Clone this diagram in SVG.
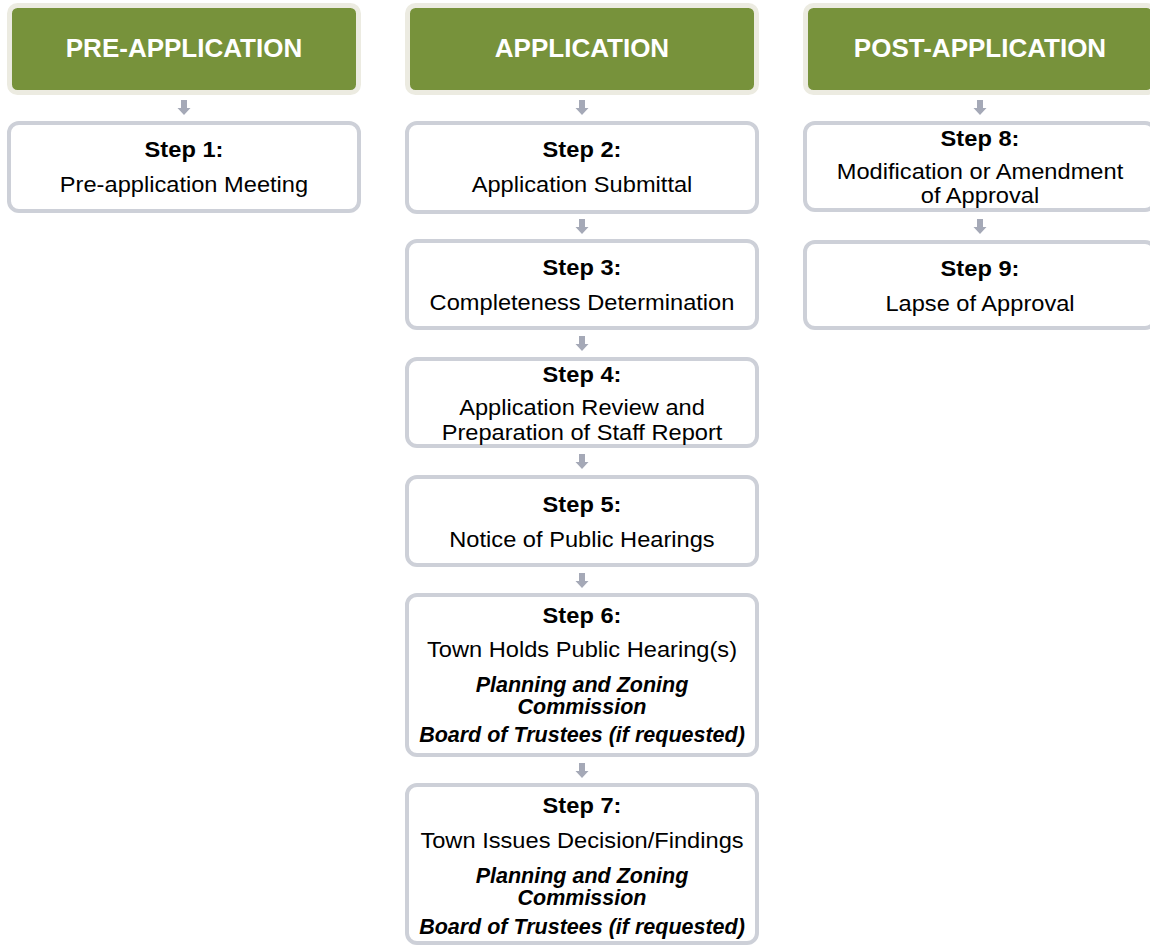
<svg xmlns="http://www.w3.org/2000/svg" xmlns:xlink="http://www.w3.org/1999/xlink" width="1150" height="946" viewBox="0 0 1150 946">
<style>
.hdr{fill:#77923b;stroke:#ecebe1;stroke-width:5}
.box{fill:#ffffff;stroke:#cdd0d8;stroke-width:4}
.ht{font-family:"Liberation Sans",Arial,sans-serif;font-weight:bold;font-size:26px;fill:#ffffff;text-anchor:middle}
.st{font-family:"Liberation Sans",Arial,sans-serif;font-weight:bold;font-size:22px;fill:#000;text-anchor:middle}
.bt{font-family:"Liberation Sans",Arial,sans-serif;font-size:22px;fill:#000;text-anchor:middle}
.it{font-family:"Liberation Sans",Arial,sans-serif;font-weight:bold;font-style:italic;font-size:21.5px;fill:#000;text-anchor:middle}
.arr{fill:#a5a9b7}
</style>
<defs>
<path id="arrow" d="M-3,0 H3 V8 H6.5 L0,15 L-6.5,8 H-3 Z"/>
</defs>
<rect width="1150" height="946" fill="#ffffff"/>

<g id="connectors" class="arr">
<use xlink:href="#arrow" href="#arrow" x="184" y="100"/>
<use xlink:href="#arrow" href="#arrow" x="582" y="100"/>
<use xlink:href="#arrow" href="#arrow" x="582" y="219"/>
<use xlink:href="#arrow" href="#arrow" x="582" y="336"/>
<use xlink:href="#arrow" href="#arrow" x="582" y="454"/>
<use xlink:href="#arrow" href="#arrow" x="582" y="573"/>
<use xlink:href="#arrow" href="#arrow" x="582" y="763"/>
<use xlink:href="#arrow" href="#arrow" x="980" y="100"/>
<use xlink:href="#arrow" href="#arrow" x="980" y="219"/>
</g>

<g id="hdr-pre">
<rect class="hdr" x="9.5" y="5.5" width="349" height="87" rx="8"/>
<text class="ht" x="184" y="57">PRE-APPLICATION</text>
</g>
<g id="hdr-app">
<rect class="hdr" x="407.5" y="5.5" width="349" height="87" rx="8"/>
<text class="ht" x="582" y="57">APPLICATION</text>
</g>
<g id="hdr-post">
<rect class="hdr" x="805.5" y="5.5" width="349" height="87" rx="8"/>
<text class="ht" x="980" y="57">POST-APPLICATION</text>
</g>

<g id="step1">
<rect class="box" x="9" y="123" width="350" height="88" rx="10"/>
<g transform="translate(184 0) scale(1.075 1)">
<text class="st" x="0" y="157">Step 1:</text>
<text class="bt" x="0" y="192">Pre-application Meeting</text>
</g>
</g>

<g id="step2">
<rect class="box" x="407" y="123" width="350" height="89" rx="10"/>
<g transform="translate(582 0) scale(1.075 1)">
<text class="st" x="0" y="157">Step 2:</text>
<text class="bt" x="0" y="192">Application Submittal</text>
</g>
</g>

<g id="step3">
<rect class="box" x="407" y="241" width="350" height="87" rx="10"/>
<g transform="translate(582 0) scale(1.075 1)">
<text class="st" x="0" y="275">Step 3:</text>
<text class="bt" x="0" y="310">Completeness Determination</text>
</g>
</g>

<g id="step4">
<rect class="box" x="407" y="359" width="350" height="87" rx="10"/>
<g transform="translate(582 0) scale(1.075 1)">
<text class="st" x="0" y="382">Step 4:</text>
<text class="bt" x="0" y="415">Application Review and</text>
<text class="bt" x="0" y="440">Preparation of Staff Report</text>
</g>
</g>

<g id="step5">
<rect class="box" x="407" y="477" width="350" height="88" rx="10"/>
<g transform="translate(582 0) scale(1.075 1)">
<text class="st" x="0" y="512">Step 5:</text>
<text class="bt" x="0" y="547">Notice of Public Hearings</text>
</g>
</g>

<g id="step6">
<rect class="box" x="407" y="595" width="350" height="160" rx="10"/>
<g transform="translate(582 0) scale(1.075 1)">
<text class="st" x="0" y="623">Step 6:</text>
<text class="bt" x="0" y="657">Town Holds Public Hearing(s)</text>
</g>
<text class="it" x="582" y="692">Planning and Zoning</text>
<text class="it" x="582" y="714">Commission</text>
<text class="it" x="582" y="742">Board of Trustees (if requested)</text>
</g>

<g id="step7">
<rect class="box" x="407" y="785" width="350" height="158" rx="10"/>
<g transform="translate(582 0) scale(1.075 1)">
<text class="st" x="0" y="813">Step 7:</text>
<text class="bt" x="0" y="848">Town Issues Decision/Findings</text>
</g>
<text class="it" x="582" y="883">Planning and Zoning</text>
<text class="it" x="582" y="905">Commission</text>
<text class="it" x="582" y="934">Board of Trustees (if requested)</text>
</g>

<g id="step8">
<rect class="box" x="805" y="123" width="350" height="87" rx="10"/>
<g transform="translate(980 0) scale(1.075 1)">
<text class="st" x="0" y="146">Step 8:</text>
<text class="bt" x="0" y="179">Modification or Amendment</text>
<text class="bt" x="0" y="203">of Approval</text>
</g>
</g>

<g id="step9">
<rect class="box" x="805" y="242" width="350" height="86" rx="10"/>
<g transform="translate(980 0) scale(1.075 1)">
<text class="st" x="0" y="276">Step 9:</text>
<text class="bt" x="0" y="311">Lapse of Approval</text>
</g>
</g>
</svg>
